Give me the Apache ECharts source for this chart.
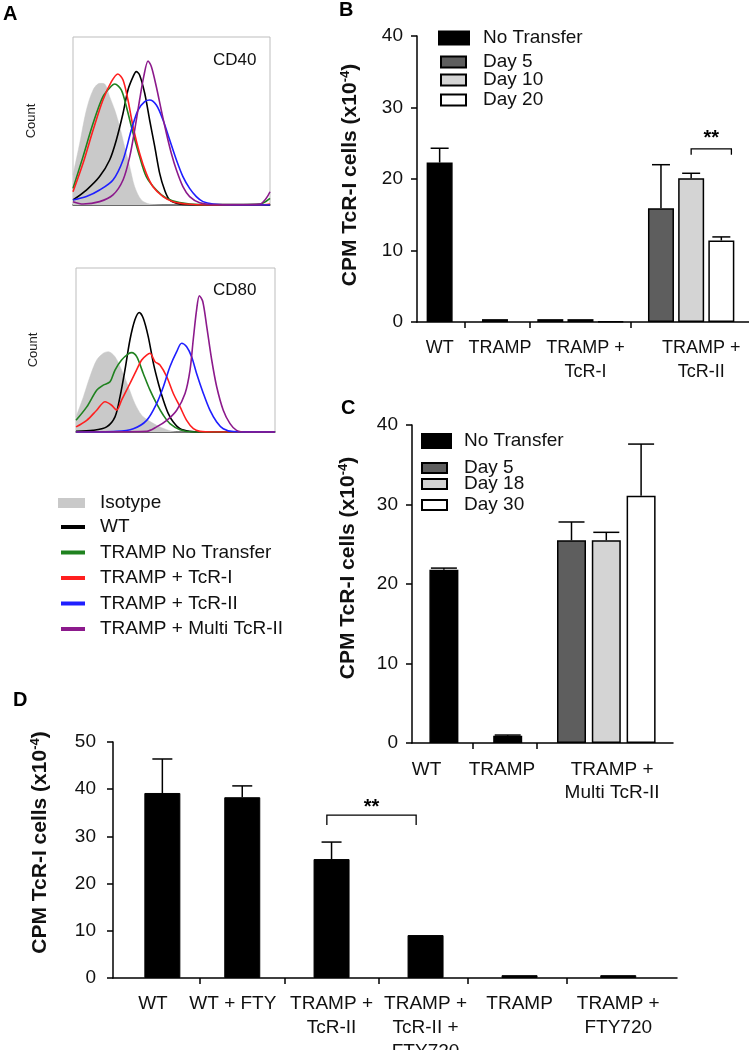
<!DOCTYPE html>
<html><head><meta charset="utf-8">
<script src="https://cdn.jsdelivr.net/npm/echarts@6/dist/echarts.min.js"></script>
<style>html,body{margin:0;padding:0;background:#fff}#c{width:749px;height:1050px}</style>
</head><body><div id="c"></div>
<script>
// ================= DATA =================
// Panel A: flow-cytometry histograms, points as [fluorescence (0-100 of plot width), count (0-100 of plot height)]
const histNames = ['Isotype', 'WT', 'TRAMP No Transfer', 'TRAMP + TcR-I', 'TRAMP + TcR-II', 'TRAMP + Multi TcR-II'];
const cd40Isotype = [[0,17.9],[3.4,36.7],[6.8,56.5],[10.2,68.5],[13.5,72.4],[16.1,72.0],[18.6,64.5],[21.2,56.5],[23.7,46.6],[26.2,34.7],[28.8,22.8],[31.3,10.9],[34.7,3.0],[38.9,0.6],[47.4,0],[100,0]];
const cd40WT = [[0,3.0],[6.8,8.9],[13.5,16.9],[18.6,26.8],[22.0,38.7],[25.4,54.6],[27.9,68.5],[30.5,76.4],[32.1,79.4],[33.8,77.4],[36.4,66.5],[38.9,50.6],[41.5,34.7],[44.0,18.8],[46.5,8.9],[49.1,3.0],[54.1,0.6],[64.3,0],[100,0]];
const cd40NoTransfer = [[0,9.9],[5.1,28.8],[10.2,48.6],[15.2,64.5],[19.5,70.8],[21.2,72.0],[24.5,68.5],[27.1,58.5],[30.5,42.7],[33.8,28.8],[37.2,16.9],[42.3,8.9],[47.4,4.0],[54.1,1.4],[64.3,0.2],[94.8,0.6],[100,4.0]];
const cd40TcRI = [[0,7.9],[5.1,24.8],[10.2,44.6],[15.2,62.5],[19.5,73.4],[22.8,78.0],[25.4,74.4],[27.9,62.5],[30.5,46.6],[33.8,30.8],[37.2,18.8],[40.6,10.9],[45.7,5.0],[50.8,2.0],[57.5,0.6],[67.7,0],[94.8,0],[100,0.6]];
const cd40TcRII = [[0,3.0],[6.8,5.0],[13.5,8.9],[20.3,14.9],[25.4,26.8],[29.6,44.6],[33.0,56.5],[36.4,61.5],[38.9,62.5],[42.3,59.5],[45.7,50.6],[49.1,38.7],[52.5,26.8],[55.8,16.9],[59.2,9.9],[62.6,5.0],[66.0,2.0],[71.1,0.6],[81.2,0],[100,0]];
const cd40Multi = [[0,2.0],[5.1,0.6],[13.5,2.0],[20.3,6.0],[25.4,14.9],[28.8,28.8],[31.3,44.6],[33.8,62.5],[35.9,76.4],[38.1,85.7],[39.8,82.3],[42.3,70.4],[44.8,56.5],[47.4,42.7],[49.9,30.8],[52.5,20.8],[55.8,10.9],[59.2,5.0],[64.3,1.4],[72.8,0.2],[94.8,0.6],[98.1,4.0],[100,7.9]];
const cd80Isotype = [[0,9.2],[3.7,21.4],[7.0,33.7],[10.4,43.9],[13.7,48.0],[16.2,49.0],[19.6,45.9],[22.9,37.8],[26.3,27.6],[29.6,17.3],[33.0,10.2],[36.3,7.1],[40.5,4.1],[45.6,1.4],[50.6,0],[100,0]];
const cd80WT = [[0,0.4],[8.7,1.0],[15.4,3.1],[19.6,9.2],[22.1,21.4],[24.6,37.8],[27.1,56.1],[29.6,68.4],[31.8,72.9],[33.8,69.4],[36.3,58.2],[38.9,41.8],[41.4,29.6],[43.9,19.4],[46.4,11.2],[48.9,6.1],[52.3,2.0],[57.3,0.4],[62.3,0],[100,0]];
const cd80NoTransfer = [[0,7.1],[5.4,15.3],[10.4,25.5],[13.7,28.6],[17.1,30.6],[19.6,37.8],[22.9,43.9],[26.3,47.6],[28.0,48.4],[30.5,45.9],[33.8,35.7],[37.2,25.5],[40.5,17.3],[43.9,10.2],[47.2,5.1],[52.3,1.4],[58.9,0],[100,0]];
const cd80TcRI = [[0,3.1],[5.4,7.1],[10.4,13.3],[14.6,18.4],[17.9,16.3],[20.4,13.3],[22.9,19.4],[26.3,27.6],[29.6,35.7],[33.0,43.9],[35.5,46.9],[37.2,48.0],[39.7,42.9],[42.2,40.8],[45.6,33.7],[48.9,23.5],[52.3,15.3],[55.6,7.1],[59.0,2.0],[62.3,0.4],[69.0,0],[100,0]];
const cd80TcRII = [[0,0],[20.4,0.4],[28.8,2.0],[35.5,7.1],[40.5,17.3],[43.9,27.6],[47.2,39.8],[50.6,49.0],[53.1,54.1],[55.6,52.0],[58.1,45.9],[60.6,35.7],[64.0,23.5],[67.3,13.3],[70.7,6.1],[74.0,2.0],[79.1,0.2],[100,0]];
const cd80Multi = [[0,0],[35.5,0.4],[40.5,3.1],[45.6,7.1],[50.6,13.3],[54.8,23.5],[57.3,37.8],[58.9,56.1],[60.6,74.5],[62.0,83.1],[63.7,79.6],[65.7,64.3],[68.2,43.9],[70.7,27.6],[74.0,13.3],[77.4,5.1],[80.7,1.0],[85.8,0],[100,0]];

// Panel B
const bGroups = ['WT', 'TRAMP', 'TRAMP +\nTcR-I', 'TRAMP +\nTcR-II'];
const bLegend = ['No Transfer', 'Day 5', 'Day 10', 'Day 20'];
const bNoTransfer = [22.3, 0.4, null, null];
const bNoTransferErr = [2.0, null, null, null];
const bDay5 = [null, null, 0.4, 15.9];
const bDay5Err = [null, null, null, 6.1];
const bDay10 = [null, null, 0.4, 20.1];
const bDay10Err = [null, null, null, 0.7];
const bDay20 = [null, null, 0.1, 11.4];
const bDay20Err = [null, null, null, 0.5];
const bYTicks = [0, 10, 20, 30, 40];
const bSig = [24.2, 0.8, 25.6]; // bracket level, drop, star level

// Panel C
const cGroups = ['WT', 'TRAMP', 'TRAMP +\nMulti TcR-II'];
const cLegend = ['No Transfer', 'Day 5', 'Day 18', 'Day 30'];
const cNoTransfer = [21.8, 0.9, null];
const cNoTransferErr = [0.2, 0.1, null];
const cDay5 = [null, null, 25.5];
const cDay5Err = [null, null, 2.3];
const cDay18 = [null, null, 25.5];
const cDay18Err = [null, null, 1.0];
const cDay30 = [null, null, 31.1];
const cDay30Err = [null, null, 6.5];
const cYTicks = [0, 10, 20, 30, 40];

// Panel D
const dGroups = ['WT', 'WT + FTY', 'TRAMP +\nTcR-II', 'TRAMP +\nTcR-II +\nFTY720', 'TRAMP', 'TRAMP +\nFTY720'];
const dValues = [39.2, 38.3, 25.2, 9.1, 0.6, 0.6];
const dErr = [7.2, 2.4, 3.6, null, null, null];
const dYTicks = [0, 10, 20, 30, 40, 50];
const dSig = [34.5, 2.1, 36.2];

// ================= LAYOUT (slot positions on fine category axes) =================
const bLayout = {n: 66, labels: [4, 16, 33, 56], ticks: [9, 22, 42], sig: [54, 62],
  bars: {'No Transfer': [4, 15, null, null], 'Day 5': [null, null, 26, 48], 'Day 10': [null, null, 32, 54], 'Day 20': [null, null, 38, 60]}};
const cLayout = {n: 45, labels: [2, 15, 34], ticks: [10, 21],
  bars: {'No Transfer': [5, 16, null], 'Day 5': [null, null, 27], 'Day 18': [null, null, 33], 'Day 30': [null, null, 39]}};
const dLayout = {n: 120, labels: [8, 25, 46, 66, 86, 107], ticks: [18, 36, 56, 75, 96], sig: [45, 64],
  bars: [10, 27, 46, 66, 86, 107]};

const FONT = "'Liberation Sans', Arial, Helvetica, sans-serif";
const BLACK = '#000';
const TXT = '#111';
const histColors = ['#c9c9c9', '#000000', '#1f821f', '#ff1f1f', '#1f1fff', '#8c1a8c'];
const dayColors = {'No Transfer': '#000000', 'Day 5': '#5e5e5e', 'Day 10': '#d4d4d4', 'Day 18': '#d4d4d4', 'Day 20': '#ffffff', 'Day 30': '#ffffff'};

// ================= HELPERS =================
function cats(n) { return Array.from({length: n}, (_, i) => String(i)); }
function slotData(n, slots, values) {
  const arr = new Array(n).fill('-');
  values.forEach((v, i) => { if (v != null && slots[i] != null) arr[slots[i]] = v; });
  return arr;
}
function errData(slots, values, errs) {
  const out = [];
  values.forEach((v, i) => { if (v != null && errs[i] != null && slots[i] != null) out.push([slots[i], v, errs[i]]); });
  return out;
}
function catAxis(gi, layout, groups, margin, lineHeight, fontSize) {
  const m = new Array(layout.n).fill('');
  layout.labels.forEach((s, i) => { m[s] = groups[i]; });
  return {
    gridIndex: gi, type: 'category', data: cats(layout.n), boundaryGap: true,
    axisLine: {show: true, lineStyle: {color: BLACK, width: 1.5}},
    axisTick: {show: true, alignWithLabel: true, length: 6, interval: (i) => layout.ticks.includes(i), lineStyle: {color: BLACK, width: 1.5}},
    axisLabel: {show: true, interval: (i) => layout.labels.includes(i), formatter: (v) => m[+v],
      fontFamily: FONT, fontSize, color: TXT, margin, lineHeight, align: 'center'},
    splitLine: {show: false}
  };
}
function valAxis(gi, ticks, nameGap, padLeft, labelMargin) {
  return {
    gridIndex: gi, type: 'value', min: ticks[0], max: ticks[ticks.length - 1], interval: ticks[1] - ticks[0],
    axisLine: {show: true, lineStyle: {color: BLACK, width: 1.5}},
    axisTick: {show: true, length: 6, lineStyle: {color: BLACK, width: 1.5}},
    axisLabel: {fontFamily: FONT, fontSize: 19, color: TXT, margin: labelMargin},
    splitLine: {show: false},
    name: '{m|CPM TcR-I cells (x10}{s|-4}{m|)}', nameLocation: 'middle', nameRotate: 90, nameGap,
    nameTextStyle: {padding: [0, 0, 0, padLeft], rich: {
      m: {fontFamily: FONT, fontSize: 21, fontWeight: 'bold', color: TXT, lineHeight: 23},
      s: {fontFamily: FONT, fontSize: 13, fontWeight: 'bold', color: TXT, lineHeight: 13, verticalAlign: 'top'}
    }}
  };
}
function histXAxis(gi) {
  return {gridIndex: gi, type: 'value', min: 0, max: 100, axisLine: {show: true, lineStyle: {color: '#444', width: 1.5}},
    axisTick: {show: false}, axisLabel: {show: false}, splitLine: {show: false}};
}
function histYAxis(gi, nameGap) {
  return {gridIndex: gi, type: 'value', min: 0, max: 100, axisLine: {show: false}, axisTick: {show: false},
    axisLabel: {show: false}, splitLine: {show: false},
    name: 'Count', nameLocation: 'middle', nameRotate: 90, nameGap,
    nameTextStyle: {fontFamily: FONT, fontSize: 13, color: '#222'}};
}
function histSeries(ai, idx, data) {
  const isArea = idx === 0;
  const s = {type: 'line', name: histNames[idx], xAxisIndex: ai, yAxisIndex: ai, data, symbol: 'none', showSymbol: false,
    smooth: 0.3, silent: true, z: isArea ? 1 : 3 + idx,
    lineStyle: {color: histColors[idx], width: isArea ? 0.5 : 1.6}, itemStyle: {color: histColors[idx]}};
  if (isArea) s.areaStyle = {color: histColors[idx], opacity: 1};
  return s;
}
function barSeries(ai, name, layout, values, barWidth) {
  return {type: 'bar', name, xAxisIndex: ai, yAxisIndex: ai, data: slotData(layout.n, layout.bars[name], values),
    barWidth, barGap: '-100%', silent: true, z: 2,
    itemStyle: {color: dayColors[name], borderColor: BLACK, borderWidth: 1.5}};
}
function errorSeries(ai, data, capHalf) {
  return {type: 'custom', xAxisIndex: ai, yAxisIndex: ai, z: 5, silent: true, data, encode: {x: 0, y: 1},
    renderItem: function (params, api) {
      const x = api.value(0), v = api.value(1), e = api.value(2);
      const p0 = api.coord([x, v]), p1 = api.coord([x, v + e]);
      const st = {stroke: BLACK, lineWidth: 1.5};
      return {type: 'group', children: [
        {type: 'line', shape: {x1: p0[0], y1: p0[1], x2: p1[0], y2: p1[1]}, style: st},
        {type: 'line', shape: {x1: p1[0] - capHalf, y1: p1[1], x2: p1[0] + capHalf, y2: p1[1]}, style: st}
      ]};
    }};
}
function sigSeries(ai, slots, sig) {
  return {type: 'custom', xAxisIndex: ai, yAxisIndex: ai, z: 6, silent: true,
    data: [[slots[0], sig[0], slots[1], sig[1], sig[2]]], encode: {x: 0, y: 1},
    renderItem: function (params, api) {
      const l = api.value(0), lev = api.value(1), r = api.value(2), drop = api.value(3), tl = api.value(4);
      const pL = api.coord([l, lev]), pR = api.coord([r, lev]);
      const yd = api.coord([l, lev - drop])[1];
      const yt = api.coord([l, tl])[1];
      return {type: 'group', children: [
        {type: 'polyline', shape: {points: [[pL[0], yd], [pL[0], pL[1]], [pR[0], pR[1]], [pR[0], yd]]}, style: {stroke: BLACK, lineWidth: 1.3, fill: null}},
        {type: 'text', style: {text: '**', x: (pL[0] + pR[0]) / 2, y: yt, align: 'center', verticalAlign: 'middle',
          font: 'bold 20px ' + FONT, fill: BLACK}}
      ]};
    }};
}
function legendOne(name, left, top, w, h, padLeft) {
  return {data: [name], left, top, orient: 'vertical', padding: 0, itemGap: 0, icon: 'rect', selectedMode: false,
    itemWidth: w, itemHeight: h,
    textStyle: {fontFamily: FONT, fontSize: 19, color: TXT, lineHeight: 20, padding: [0, 0, 0, padLeft]}};
}
function letter(text, left, top) {
  return {text, left, top, padding: 0, textStyle: {fontFamily: FONT, fontSize: 20, fontWeight: 'bold', color: BLACK}};
}

// ================= OPTION =================
const option = {
  animation: false,
  backgroundColor: '#fff',
  title: [
    letter('A', 3, 4), letter('B', 339, 0), letter('C', 341, 398), letter('D', 13, 690),
    {text: 'CD40', left: 213, top: 52, padding: 0, textStyle: {fontFamily: FONT, fontSize: 17, fontWeight: 'normal', color: TXT}},
    {text: 'CD80', left: 213, top: 282, padding: 0, textStyle: {fontFamily: FONT, fontSize: 17, fontWeight: 'normal', color: TXT}}
  ],
  legend: [
    Object.assign(legendOne('Isotype', 58, 493, 27, 10, 10), {itemStyle: {borderWidth: 0}}),
    {data: histNames.slice(1), left: 61, top: 517, orient: 'vertical', padding: 0, itemGap: 5.5, icon: 'rect', selectedMode: false,
      itemWidth: 24, itemHeight: 4, itemStyle: {borderWidth: 0},
      textStyle: {fontFamily: FONT, fontSize: 19, color: TXT, lineHeight: 20, padding: [0, 0, 0, 10]}},
    legendOne(bLegend[0], 438, 28, 30, 13, 9),
    legendOne(bLegend[1], 440, 52, 25, 11, 12),
    legendOne(bLegend[2], 440, 70, 25, 11, 12),
    legendOne(bLegend[3], 440, 90, 25, 11, 12),
    legendOne(cLegend[0], 421, 431, 29, 14, 8),
    legendOne(cLegend[1], 421, 458, 25, 10, 12),
    legendOne(cLegend[2], 421, 474, 25, 10, 12),
    legendOne(cLegend[3], 421, 495, 25, 10, 12)
  ],
  grid: [
    {left: 73, top: 37, width: 197, height: 168, show: true, borderColor: '#bdbdbd', borderWidth: 1, outerBoundsMode: 'none', containLabel: false},
    {left: 76, top: 268, width: 199, height: 164, show: true, borderColor: '#bdbdbd', borderWidth: 1, outerBoundsMode: 'none', containLabel: false},
    {left: 417, top: 36, width: 332, height: 286, outerBoundsMode: 'none', containLabel: false},
    {left: 412, top: 425, width: 261, height: 318, outerBoundsMode: 'none', containLabel: false},
    {left: 113, top: 742, width: 564, height: 236, outerBoundsMode: 'none', containLabel: false}
  ],
  xAxis: [
    histXAxis(0), histXAxis(1),
    catAxis(2, bLayout, bGroups, 14, 24, 18),
    catAxis(3, cLayout, cGroups, 15, 23, 19),
    catAxis(4, dLayout, dGroups, 14, 24, 19)
  ],
  yAxis: [
    histYAxis(0, 35), histYAxis(1, 36),
    valAxis(2, bYTicks, 55, 8, 14),
    valAxis(3, cYTicks, 52, 32, 14),
    valAxis(4, dYTicks, 61, 35, 17)
  ],
  series: [
    histSeries(0, 0, cd40Isotype), histSeries(0, 2, cd40NoTransfer), histSeries(0, 3, cd40TcRI),
    histSeries(0, 1, cd40WT), histSeries(0, 4, cd40TcRII), histSeries(0, 5, cd40Multi),
    histSeries(1, 0, cd80Isotype), histSeries(1, 2, cd80NoTransfer), histSeries(1, 3, cd80TcRI),
    histSeries(1, 1, cd80WT), histSeries(1, 4, cd80TcRII), histSeries(1, 5, cd80Multi),

    barSeries(2, 'No Transfer', bLayout, bNoTransfer, 26),
    barSeries(2, 'Day 5', bLayout, bDay5, 26),
    barSeries(2, 'Day 10', bLayout, bDay10, 26),
    barSeries(2, 'Day 20', bLayout, bDay20, 26),
    errorSeries(2, [].concat(
      errData(bLayout.bars['No Transfer'], bNoTransfer, bNoTransferErr),
      errData(bLayout.bars['Day 5'], bDay5, bDay5Err),
      errData(bLayout.bars['Day 10'], bDay10, bDay10Err),
      errData(bLayout.bars['Day 20'], bDay20, bDay20Err)), 9),
    sigSeries(2, bLayout.sig, bSig),

    barSeries(3, 'No Transfer', cLayout, cNoTransfer, 29),
    barSeries(3, 'Day 5', cLayout, cDay5, 29),
    barSeries(3, 'Day 18', cLayout, cDay18, 29),
    barSeries(3, 'Day 30', cLayout, cDay30, 29),
    errorSeries(3, [].concat(
      errData(cLayout.bars['No Transfer'], cNoTransfer, cNoTransferErr),
      errData(cLayout.bars['Day 5'], cDay5, cDay5Err),
      errData(cLayout.bars['Day 18'], cDay18, cDay18Err),
      errData(cLayout.bars['Day 30'], cDay30, cDay30Err)), 13),

    {type: 'bar', name: 'Panel D', xAxisIndex: 4, yAxisIndex: 4, data: slotData(dLayout.n, dLayout.bars, dValues),
      barWidth: 36, silent: true, z: 2, itemStyle: {color: BLACK, borderColor: BLACK, borderWidth: 1}},
    errorSeries(4, errData(dLayout.bars, dValues, dErr), 10),
    sigSeries(4, dLayout.sig, dSig)
  ]
};

const chart = echarts.init(document.getElementById('c'), null, {renderer: 'canvas', width: 749, height: 1050});
chart.setOption(option);
</script>
</body></html>
